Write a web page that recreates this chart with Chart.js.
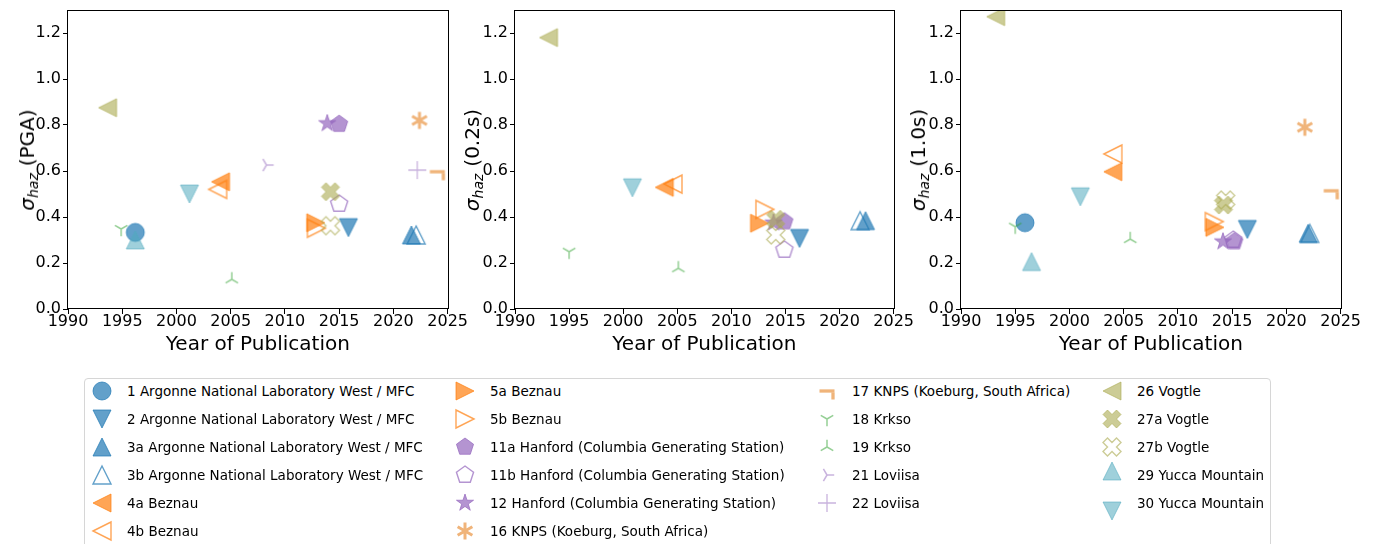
<!DOCTYPE html>
<html><head><meta charset="utf-8">
<script src="https://cdn.jsdelivr.net/npm/chart.js@4.4.1/dist/chart.umd.min.js"></script>
<style>
html,body{margin:0;padding:0;background:#fff;}
body{width:1375px;height:544px;overflow:hidden;position:relative;font-family:'DejaVu Sans',sans-serif;}
canvas.chart{position:absolute;top:0;}
.ylab{position:absolute;white-space:nowrap;font-size:20px;line-height:24px;transform:translate(-50%,-50%) rotate(-90deg);color:#000;}
.ylab .sg{font-style:italic;}
.ylab .sb{font-size:14px;font-style:italic;position:relative;top:4px;}
.ylab .gap{display:inline-block;width:7px;}
#legend{position:absolute;left:84px;top:378px;width:1187px;height:200px;border:1px solid #d6d6d6;border-radius:4px;box-sizing:border-box;}
.lgm{position:absolute;transform:translate(-50%,-50%);}
.lgt{position:absolute;font-size:13.5px;line-height:16px;transform:translateY(-50%);white-space:nowrap;color:#000;}
</style></head><body>
<div id="legend"></div>
<script>
// ---------------- data ----------------
const seriesLabels = [
  '1 Argonne National Laboratory West / MFC',
  '2 Argonne National Laboratory West / MFC',
  '3a Argonne National Laboratory West / MFC',
  '3b Argonne National Laboratory West / MFC',
  '4a Beznau', '4b Beznau', '5a Beznau', '5b Beznau',
  '11a Hanford (Columbia Generating Station)',
  '11b Hanford (Columbia Generating Station)',
  '12 Hanford (Columbia Generating Station)',
  '16 KNPS (Koeburg, South Africa)',
  '17 KNPS (Koeburg, South Africa)',
  '18 Krkso', '19 Krkso', '21 Loviisa', '22 Loviisa',
  '26 Vogtle', '27a Vogtle', '27b Vogtle',
  '29 Yucca Mountain', '30 Yucca Mountain'
];
// PGA panel
const pgaYear  = [1996.2, 2015.85, 2021.66, 2022.1, 2004.06, 2003.8, 2012.84, 2012.9, 2015.0, 2015.0, 2013.9, 2022.4, 2024.05, 1994.9, 2005.1, 2008.3, 2022.2, 1993.65, 2014.2, 2014.2, 1996.2, 2001.2];
const pgaSigma = [0.333, 0.354, 0.322, 0.322, 0.553, 0.52, 0.375, 0.351, 0.804, 0.457, 0.807, 0.82, 0.597, 0.348, 0.129, 0.626, 0.604, 0.875, 0.51, 0.362, 0.30, 0.50];
// 0.2 s panel
const s02Year  = [null, 2016.3, 2022.4, 2021.9, 2003.8, 2004.6, 2012.6, 2013.1, 2014.9, 2014.9, 2013.9, null, null, 1995.0, 2005.1, null, null, 1993.1, 2014.1, 2014.1, null, 2000.85];
const s02Sigma = [null, 0.307, 0.384, 0.384, 0.529, 0.543, 0.373, 0.433, 0.38, 0.257, 0.375, null, null, 0.249, 0.177, null, null, 1.18, 0.39, 0.322, null, 0.527];
// 1.0 s panel
const s10Year  = [1995.9, 2016.4, 2022.0, 2022.15, 2004.0, 2004.0, 2013.4, 2013.35, 2015.2, 2015.1, 2014.15, 2021.7, 2024.13, 1995.0, 2005.6, null, null, 1993.2, 2014.2, 2014.4, 1996.5, 2001.0];
const s10Sigma = [0.375, 0.346, 0.329, 0.329, 0.597, 0.674, 0.355, 0.38, 0.293, 0.30, 0.293, 0.79, 0.514, 0.358, 0.304, null, null, 1.271, 0.452, 0.474, 0.206, 0.488];

const panelUnits = ['(PGA)', '(0.2s)', '(1.0s)'];
const xTitle = 'Year of Publication';

// ---------------- styles ----------------
const COL = {
  blue:'rgba(31,119,180,0.7)', orange:'rgba(255,127,14,0.7)', purple:'rgba(148,103,189,0.7)',
  knps:'rgba(232,140,50,0.65)', green:'rgba(44,160,44,0.5)', lov:'rgba(148,103,189,0.5)',
  olive:'rgba(170,170,80,0.6)', teal:'rgba(80,170,190,0.55)'
};
const markerKind  = ['o','v','^','^','<','<','>','>','p','p','*','ast','hook','1','2','4','+','<','X','X','^','v'];
const markerColor = ['blue','blue','blue','blue','orange','orange','orange','orange','purple','purple','purple','knps','knps','green','green','lov','lov','olive','olive','olive','teal','teal'];
const markerFill  = [1,1,1,0,1,0,1,0,1,0,1,1,1,1,1,1,1,1,1,0,1,1];

function makeMarker(kind, color, filled) {
  const s = 18, r = s/2, size = 30;
  const c = document.createElement('canvas');
  c.width = size; c.height = size;
  const g = c.getContext('2d');
  g.translate(size/2, size/2);
  g.strokeStyle = color; g.fillStyle = color;
  const poly = pts => { g.beginPath(); pts.forEach((p,i)=> i?g.lineTo(p[0],p[1]):g.moveTo(p[0],p[1])); g.closePath();
    if (filled) { g.fill(); g.lineWidth = 1; g.stroke(); } else { g.lineWidth = 1.4; g.stroke(); } };
  const lines = (segs, lw, cap) => { g.lineWidth = lw; g.lineCap = cap || 'butt'; g.beginPath();
    segs.forEach(sg => { g.moveTo(sg[0],sg[1]); g.lineTo(sg[2],sg[3]); }); g.stroke(); };
  switch (kind) {
    case 'o': g.beginPath(); g.arc(0,0,r,0,Math.PI*2); g.fill(); g.lineWidth=1; g.stroke(); break;
    case '^': poly([[0,-r],[-r,r],[r,r]]); break;
    case 'v': poly([[0,r],[-r,-r],[r,-r]]); break;
    case '<': poly([[-r,0],[r,-r],[r,r]]); break;
    case '>': poly([[r,0],[-r,-r],[-r,r]]); break;
    case 'p': { const pts=[]; for(let k=0;k<5;k++){const a=-Math.PI/2+k*2*Math.PI/5; pts.push([r*Math.cos(a), r*Math.sin(a)]);} poly(pts); break; }
    case '*': { const pts=[]; for(let k=0;k<10;k++){const a=-Math.PI/2+k*Math.PI/5; const rr = k%2? r*0.381966 : r; pts.push([rr*Math.cos(a), rr*Math.sin(a)]);} poly(pts); break; }
    case 'X': { const v=[[-1,-2],[0,-1],[1,-2],[2,-1],[1,0],[2,1],[1,2],[0,1],[-1,2],[-2,1],[-1,0],[-2,-1]]; poly(v.map(p=>[p[0]*r/2, p[1]*r/2])); break; }
    case '1': { const q=r*0.8; lines([[0,0,0,q],[0,0,-0.866*q,-0.5*q],[0,0,0.866*q,-0.5*q]], 1.5); break; }
    case '2': { const q=r*0.8; lines([[0,0,0,-q],[0,0,-0.866*q,0.5*q],[0,0,0.866*q,0.5*q]], 1.5); break; }
    case '4': { const q=r*0.8; lines([[0,0,q,0],[0,0,-0.5*q,-0.866*q],[0,0,-0.5*q,0.866*q]], 1.5); break; }
    case '+': lines([[-r,0,r,0],[0,-r,0,r]], 1.3); break;
    case 'ast': { const q=8.5; const segs=[]; [90,30,-30].forEach(d=>{const a=d*Math.PI/180; segs.push([-q*Math.cos(a),-q*Math.sin(a),q*Math.cos(a),q*Math.sin(a)]);}); lines(segs, 3); break; }
    case 'hook': lines([[-7.5,0,7.5,0]], 3.3); lines([[6,1.6,6,8.5]], 3.3); break;
  }
  return c;
}

// ---------------- charts ----------------
const framePlugin = {
  id:'frame',
  afterDraw(chart){ const {ctx, chartArea:a} = chart; ctx.save(); ctx.strokeStyle='#000'; ctx.lineWidth=1;
    ctx.strokeRect(Math.round(a.left)-0.5, Math.round(a.top)+0.5, Math.round(a.right-a.left)+1, Math.round(a.bottom-a.top)-1); ctx.restore(); }
};

const panels = [
  {left:0,   width:468, axisW:68, years:pgaYear, sig:pgaSigma, labX:28},
  {left:470, width:444, axisW:45, years:s02Year, sig:s02Sigma, labX:473},
  {left:915, width:446, axisW:46, years:s10Year, sig:s10Sigma, labX:919}
];

panels.forEach((p, pi) => {
  const cv = document.createElement('canvas');
  cv.className = 'chart'; cv.width = p.width; cv.height = 360;
  cv.style.left = p.left + 'px';
  document.body.appendChild(cv);
  const datasets = seriesLabels.map((lab, i) => ({
    label: lab,
    data: p.sig[i] == null ? [] : [{x: p.years[i], y: p.sig[i]}],
    pointStyle: makeMarker(markerKind[i], COL[markerColor[i]], markerFill[i]),
    pointRadius: 9, pointHoverRadius: 9,
    order: -i, clip: 0
  }));
  new Chart(cv, {
    type:'scatter',
    data:{datasets},
    plugins:[framePlugin],
    options:{
      responsive:false, animation:false, devicePixelRatio:1, events:[],
      layout:{padding:{top:10, right:20, left:0, bottom:0}},
      plugins:{legend:{display:false}, tooltip:{enabled:false}},
      scales:{
        x:{type:'linear', min:1990, max:2025,
           afterFit(a){ a.height = 51; },
           ticks:{stepSize:5, includeBounds:false, maxRotation:0, autoSkip:false, callback:v=>String(v),
                  font:{family:'DejaVu Sans', size:16, lineHeight:1}, color:'#000', padding:0},
           grid:{display:true, drawOnChartArea:false, drawTicks:true, tickLength:5, tickColor:'#000', tickWidth:1},
           border:{display:false},
           title:{display:true, text:xTitle, color:'#000', font:{family:'DejaVu Sans', size:20, lineHeight:1.2}, padding:{top:0, bottom:3}}},
        y:{type:'linear', min:0, max:1.3,
           afterFit(a){ a.width = p.axisW; },
           ticks:{stepSize:0.2, includeBounds:false, autoSkip:false, callback:v=>Number(v).toFixed(1),
                  font:{family:'DejaVu Sans', size:16, lineHeight:1}, color:'#000', padding:2},
           grid:{display:true, drawOnChartArea:false, drawTicks:true, tickLength:5, tickColor:'#000', tickWidth:1},
           border:{display:false}}
      }
    }
  });
  const yl = document.createElement('div');
  yl.className = 'ylab';
  yl.style.left = p.labX + 'px'; yl.style.top = '160px';
  yl.innerHTML = '<span class="sg">σ</span><span class="sb">haz</span><span class="gap"></span>' + panelUnits[pi];
  document.body.appendChild(yl);
});

// ---------------- legend ----------------
const colMarkX = [102, 465, 827, 1112];
const colTextX = [127, 490, 852, 1137];
const colStart = [0, 6, 12, 17];
seriesLabels.forEach((lab, i) => {
  const col = i < 6 ? 0 : i < 12 ? 1 : i < 17 ? 2 : 3;
  const row = i - colStart[col];
  const y = 391 + 28 * row;
  const m = makeMarker(markerKind[i], COL[markerColor[i]], markerFill[i]);
  m.className = 'lgm';
  let dy = 0; if (i === 20) dy = -4.5; if (i === 21) dy = 7.5;
  m.style.left = colMarkX[col] + 'px'; m.style.top = (y + dy) + 'px';
  document.body.appendChild(m);
  const t = document.createElement('div');
  t.className = 'lgt'; t.textContent = lab;
  t.style.left = colTextX[col] + 'px'; t.style.top = y + 'px';
  document.body.appendChild(t);
});
</script>
</body></html>
